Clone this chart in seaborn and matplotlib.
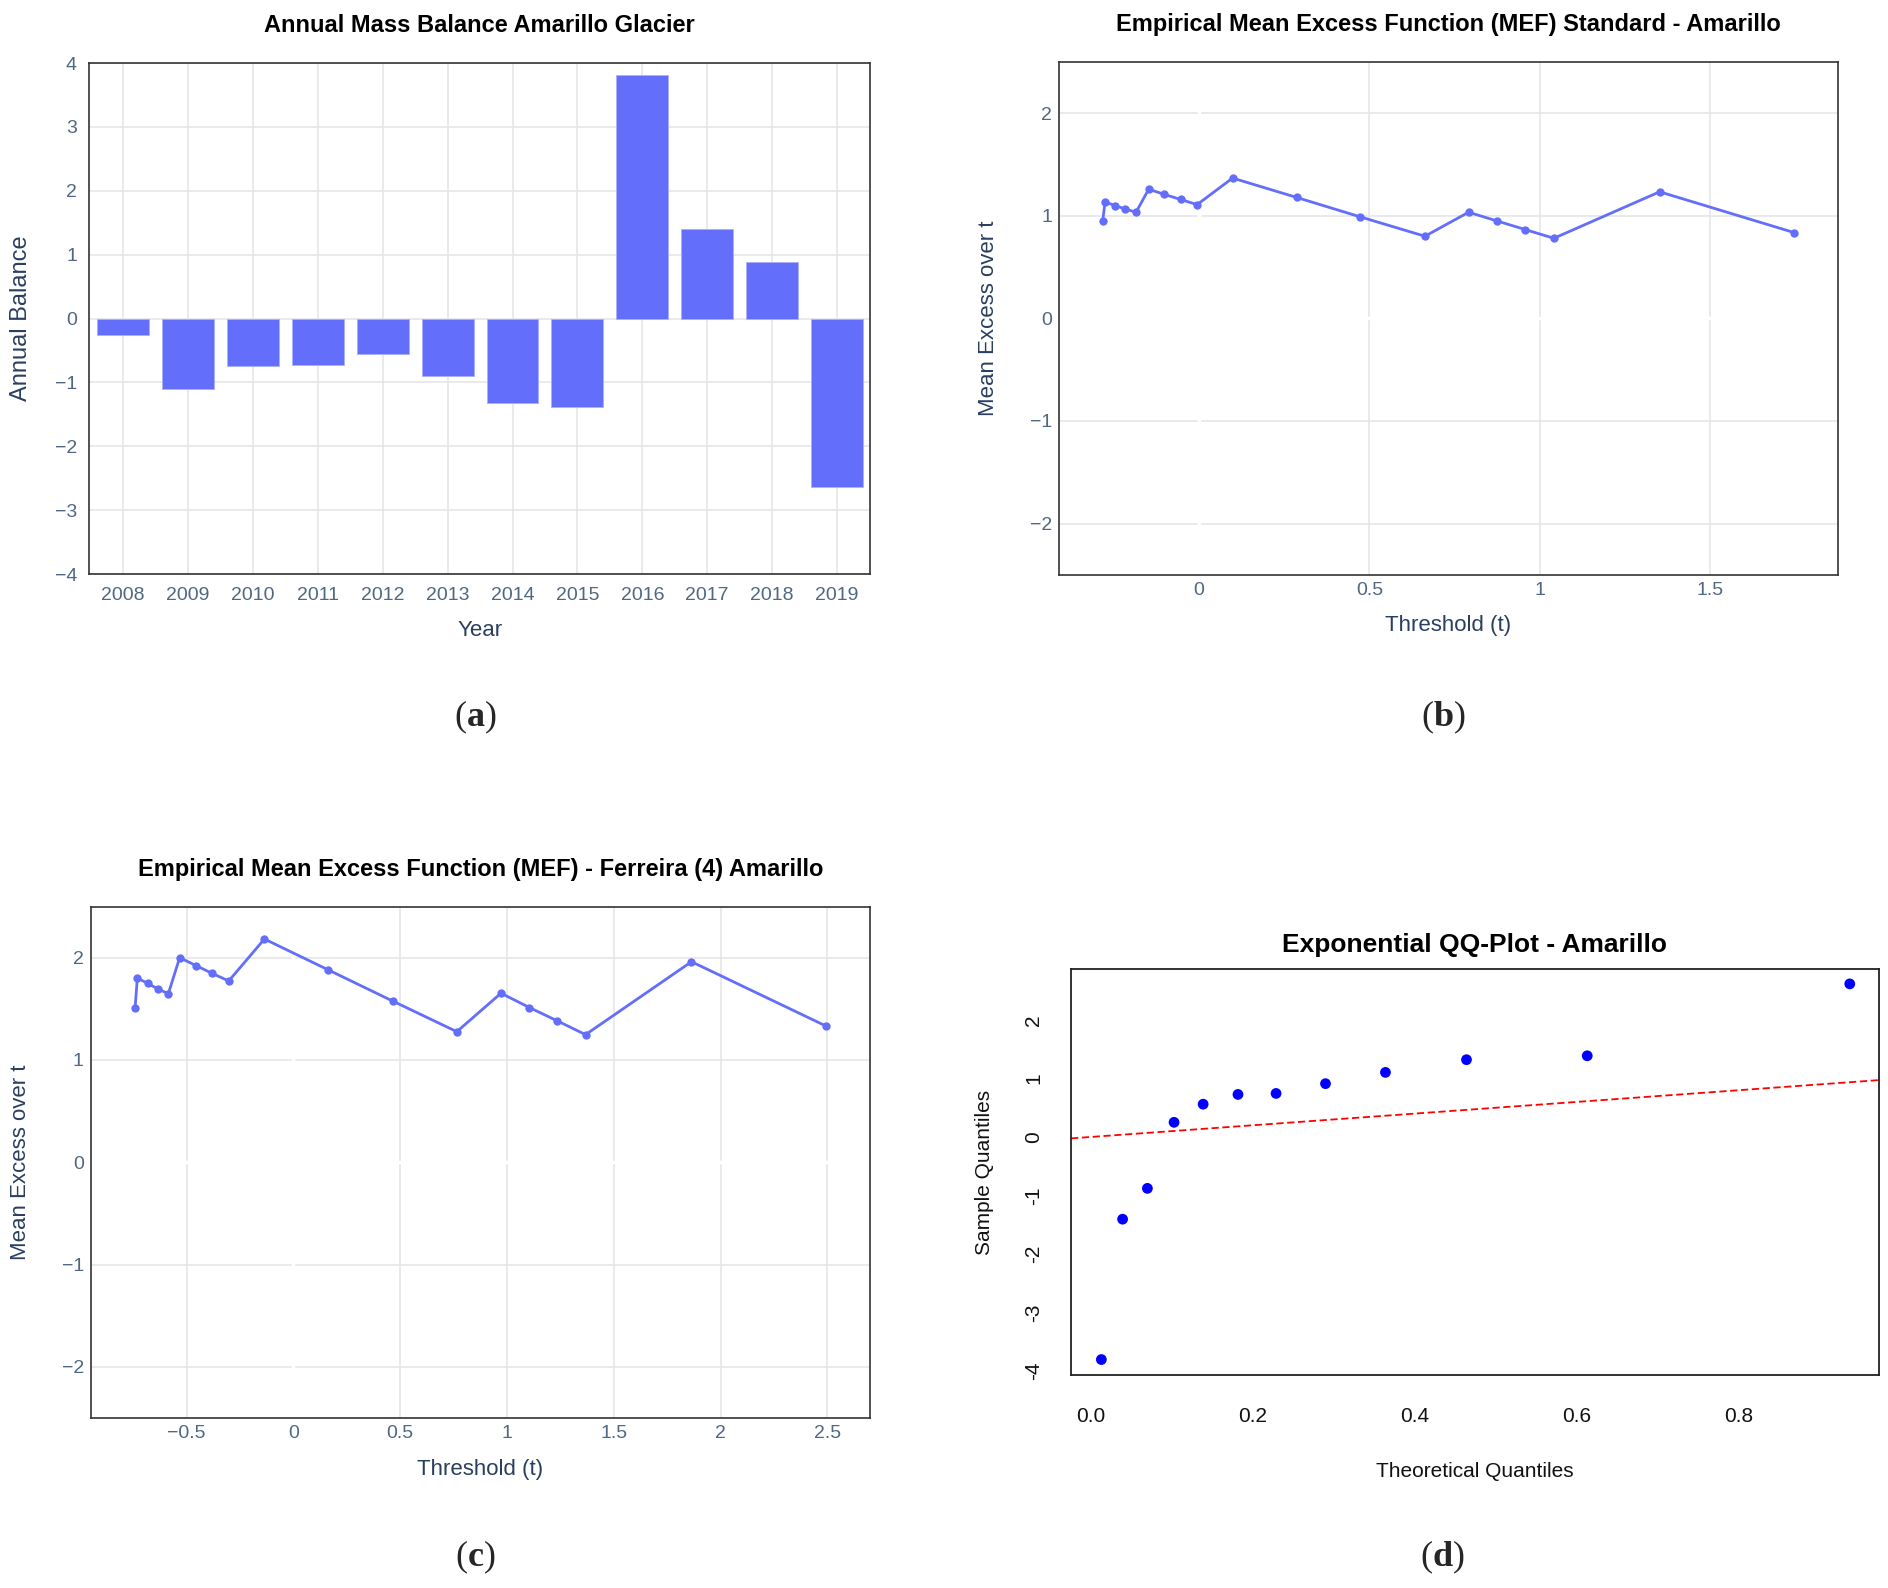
import numpy as np
import pandas as pd
import matplotlib
matplotlib.use("Agg")
import matplotlib.pyplot as plt
import seaborn as sns

# panel (a) annual balance per year
years = ["2008", "2009", "2010", "2011", "2012", "2013",
         "2014", "2015", "2016", "2017", "2018", "2019"]
balance = [-0.25, -1.10, -0.75, -0.73, -0.55, -0.90,
           -1.32, -1.39, 3.82, 1.40, 0.89, -2.63]

# panel (b) standard MEF
thr_std = [-0.282, -0.275, -0.245, -0.215, -0.184, -0.147, -0.101, -0.053, -0.005,
           0.099, 0.287, 0.473, 0.663, 0.791, 0.874, 0.957, 1.041, 1.351, 1.746]
mef_std = [0.945, 1.134, 1.100, 1.065, 1.035, 1.259, 1.209, 1.159, 1.109,
           1.368, 1.179, 0.990, 0.801, 1.035, 0.950, 0.866, 0.781, 1.234, 0.836]

# panel (c) Ferreira MEF
thr_fer = [-0.742, -0.731, -0.683, -0.635, -0.586, -0.533, -0.456, -0.380, -0.303,
           -0.136, 0.164, 0.465, 0.765, 0.972, 1.105, 1.235, 1.368, 1.864, 2.496]
mef_fer = [1.504, 1.802, 1.749, 1.696, 1.648, 2.000, 1.923, 1.846, 1.773,
           2.183, 1.880, 1.576, 1.277, 1.653, 1.513, 1.383, 1.248, 1.961, 1.330]

# panel (d) exponential QQ
theo_q = [0.0134, 0.0396, 0.0702, 0.1031, 0.139, 0.182,
          0.229, 0.290, 0.364, 0.464, 0.613, 0.937]
samp_q = [-3.807, -1.406, -0.879, 0.251, 0.561, 0.728,
          0.745, 0.912, 1.105, 1.322, 1.389, 2.619]

sns.set_style("white")
plt.rcParams['font.family'] = ['Liberation Sans', 'DejaVu Sans']
# serif bold letters for the panel tags
plt.rcParams['mathtext.fontset'] = 'custom'
plt.rcParams['mathtext.rm'] = 'Liberation Serif'
plt.rcParams['mathtext.bf'] = 'Liberation Serif:bold'

PLOTLY_BLUE = "#636EFA"
TICK_COL = "#506784"
LAB_COL = "#2a3f5f"
GRID_COL = "#e6e6e6"

fig = plt.figure(figsize=(18.88, 15.88), dpi=100)


def plotly_style(ax, title):
    ax.grid(True, color=GRID_COL, linewidth=1.2)
    ax.set_axisbelow(True)
    for s in ax.spines.values():
        s.set_color("#333333")
        s.set_linewidth(1.2)
        s.set_visible(True)
    ax.tick_params(axis="both", colors=TICK_COL, labelsize=14, length=4,
                   width=1, direction="out", pad=5)
    ax.tick_params(axis="both", color="#555555")
    ax.set_title(title, fontsize=17, fontweight="bold", color="black", pad=22)


def fmt_num(v, pos=None):
    s = ("%g" % v)
    return s.replace("-", "\u2212")


# (a)
ax_a = fig.add_axes([0.0474, 0.6385, 0.4134, 0.3218])
df_a = pd.DataFrame({"Year": years, "Balance": balance})
sns.barplot(data=df_a, x="Year", y="Balance", order=years, color=PLOTLY_BLUE,
            saturation=1, width=0.8, edgecolor="#aab0fc", linewidth=0.6, ax=ax_a)
ax_a.set_xlim(-0.52, 11.51)
ax_a.set_ylim(-4, 4)
ax_a.set_yticks(range(-4, 5))
plotly_style(ax_a, "Annual Mass Balance Amarillo Glacier")
ax_a.yaxis.set_major_formatter(matplotlib.ticker.FuncFormatter(fmt_num))
ax_a.set_xlabel("Year", fontsize=16, color=LAB_COL, labelpad=12)
ax_a.set_ylabel("Annual Balance", fontsize=17, color=LAB_COL, labelpad=16)

# (b)
ax_b = fig.add_axes([0.5609, 0.638, 0.4126, 0.323])
df_b = pd.DataFrame({"t": thr_std, "me": mef_std})
ax_b.axhline(0, color="white", linewidth=2.5, zorder=1)
ax_b.axvline(0, color="white", linewidth=2.5, zorder=1)
sns.lineplot(data=df_b, x="t", y="me", sort=False, color=PLOTLY_BLUE, linewidth=2,
             marker="o", markersize=6, markeredgewidth=0, ax=ax_b, zorder=3)
ax_b.set_xlim(-0.41, 1.874)
ax_b.set_ylim(-2.5, 2.5)
ax_b.set_xticks([0, 0.5, 1, 1.5])
ax_b.set_yticks([-2, -1, 0, 1, 2])
plotly_style(ax_b, "Empirical Mean Excess Function (MEF) Standard - Amarillo")
ax_b.xaxis.set_major_formatter(matplotlib.ticker.FuncFormatter(fmt_num))
ax_b.yaxis.set_major_formatter(matplotlib.ticker.FuncFormatter(fmt_num))
ax_b.tick_params(length=0)
ax_b.set_xlabel("Threshold (t)", fontsize=16, color=LAB_COL, labelpad=12)
ax_b.set_ylabel("Mean Excess over t", fontsize=16, color=LAB_COL, labelpad=22)

# (c)
ax_c = fig.add_axes([0.0481, 0.1071, 0.4127, 0.322])
df_c = pd.DataFrame({"t": thr_fer, "me": mef_fer})
ax_c.axhline(0, color="white", linewidth=2.5, zorder=1)
ax_c.axvline(0, color="white", linewidth=2.5, zorder=1)
sns.lineplot(data=df_c, x="t", y="me", sort=False, color=PLOTLY_BLUE, linewidth=2,
             marker="o", markersize=6, markeredgewidth=0, ax=ax_c, zorder=3)
ax_c.set_xlim(-0.949, 2.70)
ax_c.set_ylim(-2.5, 2.5)
ax_c.set_xticks([-0.5, 0, 0.5, 1, 1.5, 2, 2.5])
ax_c.set_yticks([-2, -1, 0, 1, 2])
plotly_style(ax_c, "Empirical Mean Excess Function (MEF) - Ferreira (4) Amarillo")
ax_c.xaxis.set_major_formatter(matplotlib.ticker.FuncFormatter(fmt_num))
ax_c.yaxis.set_major_formatter(matplotlib.ticker.FuncFormatter(fmt_num))
ax_c.tick_params(length=0)
ax_c.set_xlabel("Threshold (t)", fontsize=16, color=LAB_COL, labelpad=12)
ax_c.set_ylabel("Mean Excess over t", fontsize=16, color=LAB_COL, labelpad=22)

# (d) R base graphics look
ax_d = fig.add_axes([0.5673, 0.134, 0.4279, 0.256])
df_d = pd.DataFrame({"theo": theo_q, "samp": samp_q})
sns.scatterplot(data=df_d, x="theo", y="samp", color="#0000FF", s=60,
                edgecolor="none", ax=ax_d, zorder=3)
xl = (-0.024, 0.973)
ax_d.plot(xl, xl, color="#FF0000", linestyle=(0, (4, 2)), linewidth=1.3, zorder=2)
ax_d.set_xlim(*xl)
ax_d.set_ylim(-4.075, 2.879)
ax_d.set_xticks([0.0, 0.2, 0.4, 0.6, 0.8])
ax_d.set_xticklabels(["0.0", "0.2", "0.4", "0.6", "0.8"])
ax_d.set_yticks([-4, -3, -2, -1, 0, 1, 2])
ax_d.set_yticklabels(["-4", "-3", "-2", "-1", "0", "1", "2"], rotation=90, va="center")
ax_d.grid(False)
for s in ax_d.spines.values():
    s.set_color("#222222")
    s.set_linewidth(1.3)
    s.set_visible(True)
ax_d.tick_params(axis="both", colors="#111111", labelsize=15, length=9, width=1.2,
                 direction="out")
ax_d.tick_params(axis="x", pad=14)
ax_d.tick_params(axis="y", pad=11)
ax_d.set_title("Exponential QQ-Plot - Amarillo", fontsize=19, fontweight="bold",
               color="black", pad=12)
ax_d.set_xlabel("Theoretical Quantiles", fontsize=15, color="#111111", labelpad=26)
ax_d.set_ylabel("Sample Quantiles", fontsize=15, color="#111111", labelpad=22)

# panel letters
for lx, ly, letter in [(0.2515, 0.5485, "a"), (0.7644, 0.5485, "b"),
                       (0.2515, 0.019, "c"), (0.764, 0.019, "d")]:
    fig.text(lx, ly, r"$\mathrm{(}\mathbf{" + letter + r"}\mathrm{)}$",
             ha="center", va="center", fontsize=26)

fig.savefig("out.png", dpi=100, facecolor="white")
